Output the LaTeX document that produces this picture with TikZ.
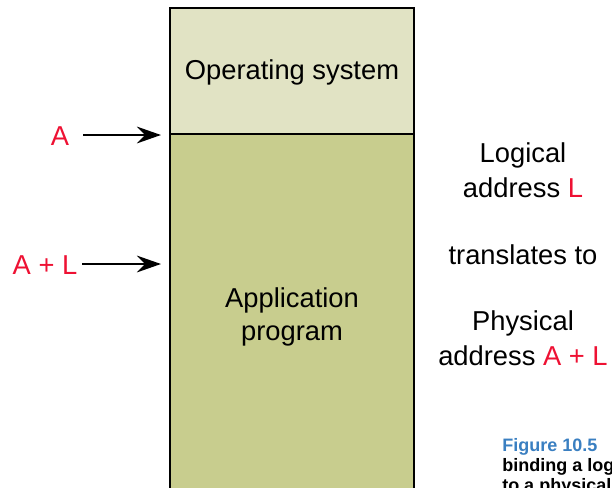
\documentclass[tikz,border=0pt]{standalone}
\usepackage{fontspec}
\setmainfont{Liberation Sans}
\usetikzlibrary{arrows.meta}
\definecolor{osfill}{HTML}{E1E3C4}
\definecolor{appfill}{HTML}{C8CD8E}
\definecolor{redtxt}{HTML}{EE1133}
\definecolor{figblue}{HTML}{3A7FC1}
\tikzset{
  lbl/.style={font=\fontsize{20.5}{24}\selectfont, inner sep=0pt},
  rlbl/.style={lbl, text=redtxt},
  arr/.style={line width=2.1pt, -{Stealth[length=18pt,width=12.5pt,inset=6pt]}},
  captxt/.style={font=\fontsize{13.5}{15}\selectfont\bfseries, inner sep=0pt, anchor=west}
}
\begin{document}
\begin{tikzpicture}[x=0.75pt,y=-0.75pt]
\useasboundingbox (0,0) rectangle (612,487);
\clip (0,0) rectangle (612,487);
% memory box
\filldraw[fill=appfill, line width=2pt] (170,134) rectangle (414,500);
\filldraw[fill=osfill, line width=2pt] (170,8) rectangle (414,134);
\node[lbl] (os) at (292,72) {Operating system};
\node[lbl, align=center, text width=200pt] (app) at (292,317) {Application\\[0.5pt]program};
% arrows
\node[rlbl] (a) at (60,136) {A};
\coordinate (a1) at (83,135);
\coordinate (a2) at (161,135);
\draw[arr] (a1) -- (a2);
\node[rlbl] (al) at (45,265) {A + L};
\coordinate (b1) at (82,264);
\coordinate (b2) at (161,264);
\draw[arr] (b1) -- (b2);
% right text
\node[lbl] (log) at (523,155) {Logical};
\node[lbl] (la) at (523,188) {address \textcolor{redtxt}{L}};
\node[lbl] (tr) at (523,255) {translates to};
\node[lbl] (ph) at (523,323) {Physical};
\node[lbl] (pa) at (523,356) {address \textcolor{redtxt}{A + L}};
% caption
\node[captxt, text=figblue] (fig) at (502,447) {Figure 10.5};
\node[captxt] (c1) at (502,467) {binding a logical address};
\node[captxt] (c2) at (502,487) {to a physical address};
\end{tikzpicture}
\end{document}
